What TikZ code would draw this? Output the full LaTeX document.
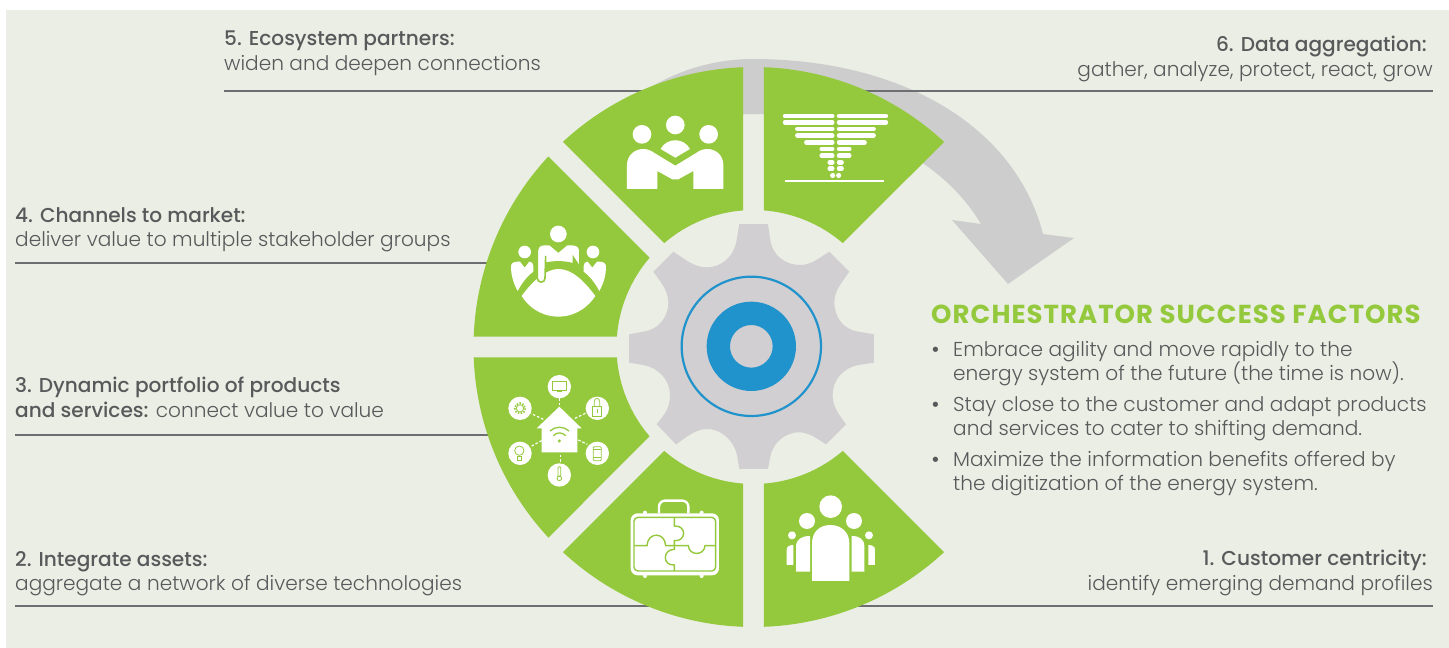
\documentclass[tikz,border=0pt]{standalone}
\usepackage{fontspec}
\setmainfont{Poppins Light}[BoldFont=Poppins Medium]
\newfontface\titlefont{Poppins Bold}[LetterSpace=4]
\definecolor{panelbg}{HTML}{EBEEE4}
\definecolor{leaf}{HTML}{95C93D}
\definecolor{arcgrey}{HTML}{CDCDCD}
\definecolor{geargrey}{HTML}{D1CFD1}
\definecolor{hub}{HTML}{2193CC}
\definecolor{rulegrey}{HTML}{6D6E71}
\definecolor{bodytext}{HTML}{58595B}
\newcommand{\wheelsector}[2]{\fill[leaf] (#1+2.1:280) arc[start angle=#1+2.1, end angle=#2-2.1, radius=280] -- (#2-4.3:137) arc[start angle=#2-4.3, end angle=#1+4.3, radius=137] -- cycle;}

\begin{document}
\begin{tikzpicture}[x=1pt, y=-1pt]
\tikzstyle{rule} = [draw = rulegrey, line width = 2.4pt]
\tikzstyle{lefttext} = [anchor = north west, inner sep = 0, align = left, text = bodytext, font = \fontsize{20.1}{24.4}\selectfont]
\tikzstyle{righttext} = [anchor = north east, inner sep = 0, align = right, text = bodytext, font = \fontsize{20.1}{24.4}\selectfont]
\tikzstyle{iconfill} = [fill = white]
\tikzstyle{iconline} = [draw = leaf, line width = 0.8pt]
\useasboundingbox (0, 0) rectangle (1449, 648);
\fill[panelbg] (6, 10) rectangle (1449, 648);
% -----------------------------------
% Big arrow
\fill[arcgrey] (640, 94) .. controls (675, 70) and (715, 59) .. (753, 59) .. controls (900, 59) and (1015, 125) .. (1043, 234) -- (1074, 238) -- (1008, 284) -- (952, 220) -- (981, 224) .. controls (940, 155) and (850, 114) .. (753, 114) .. controls (720, 114) and (680, 125) .. (660, 140) -- cycle;
% -----------------------------------
% Rules
\coordinate (rule5a) at (224, 91);
\coordinate (rule5b) at (660, 91);
\coordinate (rule6a) at (850, 91);
\coordinate (rule6b) at (1433, 91);
\coordinate (rule4a) at (15, 263);
\coordinate (rule4b) at (500, 263);
\coordinate (rule3a) at (15, 435);
\coordinate (rule3b) at (500, 435);
\coordinate (rule2a) at (15, 606);
\coordinate (rule2b) at (660, 606);
\coordinate (rule1a) at (850, 606);
\coordinate (rule1b) at (1433, 606);
\draw[rule] (rule5a)--(rule5b);
\draw[rule] (rule6a)--(rule6b);
\draw[rule] (rule4a)--(rule4b);
\draw[rule] (rule3a)--(rule3b);
\draw[rule] (rule2a)--(rule2b);
\draw[rule] (rule1a)--(rule1b);
% -----------------------------------
% Labels
\node[lefttext] (label5) at (224, 31) {\textbf{5. Ecosystem partners:}\\widen and deepen connections};
\node[righttext] (label6) at (1433, 36) {\textbf{6. Data aggregation:}\hspace{6pt}\mbox{}\\gather, analyze, protect, react, grow};
\node[lefttext] (label4) at (15, 207) {\textbf{4. Channels to market:}\\deliver value to multiple stakeholder groups};
\node[lefttext] (label3) at (15, 377) {\textbf{3. Dynamic portfolio of products}\\\textbf{and services:} connect value to value};
\node[lefttext] (label2) at (15, 551) {\textbf{2. Integrate assets:}\\aggregate a network of diverse technologies};
\node[righttext] (label1) at (1433, 550) {\textbf{1. Customer centricity:}\hspace{6pt}\mbox{}\\identify emerging demand profiles};
\node[anchor = base west, inner sep = 0, text = leaf, font = \fontsize{26}{30}\titlefont] (title) at (931, 323) {ORCHESTRATOR SUCCESS FACTORS};
\node[lefttext] (item1) at (953, 341) {\llap{\textbf{•}\hspace{13pt}}Embrace agility and move rapidly to the\\energy system of the future (the time is now).};
\node[lefttext] (item2) at (953, 396) {\llap{\textbf{•}\hspace{13pt}}Stay close to the customer and adapt products\\and services to cater to shifting demand.};
\node[lefttext] (item3) at (953, 451) {\llap{\textbf{•}\hspace{13pt}}Maximize the information benefits offered by\\the digitization of the energy system.};
% -----------------------------------
% Wheel
\begin{scope}[shift = {(753.5, 347)}, x = 1pt, y = 1pt]
\wheelsector{45}{90}
\wheelsector{90}{135}
\wheelsector{135}{180}
\wheelsector{180}{225}
\wheelsector{225}{270}
\wheelsector{270}{315}
\end{scope}
% -----------------------------------
% Gear
\begin{scope}[shift = {(620, 215)}, x = .3333pt, y = -.3333pt]
\fill[geargrey] (358, 27) -- (444, 27) -- (451, 75) .. controls (458, 125) and (500, 150) .. (540, 150) .. controls (575, 150) and (595, 130) .. (628, 110)
 -- (688, 170) -- (660, 210) .. controls (650, 225) and (643, 245) .. (643, 262) .. controls (643, 310) and (675, 345) .. (715, 350) -- (762, 358)
 -- (762, 443) -- (715, 450) .. controls (670, 458) and (638, 495) .. (638, 540) .. controls (638, 560) and (645, 580) .. (655, 595) -- (678, 628)
 -- (618, 688) -- (590, 670) .. controls (575, 660) and (555, 652) .. (538, 652) .. controls (490, 652) and (455, 690) .. (450, 730) -- (444, 762)
 -- (358, 762) -- (352, 725) .. controls (345, 680) and (305, 642) .. (262, 642) .. controls (240, 642) and (225, 650) .. (205, 662) -- (168, 688)
 -- (110, 628) -- (135, 595) .. controls (145, 580) and (150, 560) .. (150, 540) .. controls (150, 495) and (115, 458) .. (70, 450) -- (27, 443)
 -- (27, 358) -- (70, 350) .. controls (112, 345) and (145, 310) .. (145, 262) .. controls (145, 240) and (135, 220) .. (125, 205) -- (100, 170)
 -- (160, 110) -- (205, 140) .. controls (222, 150) and (240, 157) .. (260, 157) .. controls (305, 157) and (342, 125) .. (350, 75) -- cycle;
\fill[hub, even odd rule] (394, 394) circle[radius = 134] (394, 394) circle[radius = 64];
\draw[hub, line width = 2.2pt] (394, 394) circle[radius = 209];
\end{scope}
% -----------------------------------
% Handshake icon
\begin{scope}[shift = {(470, 50)}, x = .3333pt, y = -.3333pt]
\fill[iconfill] (516, 253) circle[radius = 28];
\fill[iconfill] (616, 225) circle[radius = 28];
\fill[iconfill] (716, 253) circle[radius = 28];
\fill[iconfill] (572, 297) .. controls (590, 262) and (642, 262) .. (660, 297) -- (616, 323) -- cycle;
\fill[iconfill] (471, 417) -- (471, 345) .. controls (471, 315) and (495, 297) .. (520, 297) .. controls (535, 297) and (545, 303) .. (555, 310) -- (616, 347) -- (677, 310) .. controls (687, 303) and (697, 297) .. (712, 297) .. controls (737, 297) and (760, 315) .. (760, 345) -- (760, 417) -- (670, 417) -- (670, 363) -- (625, 388) -- (607, 388) -- (562, 363) -- (562, 417) -- cycle;
\end{scope}
% -----------------------------------
% Meeting icon
\begin{scope}[shift = {(505, 220)}, x = .3333pt, y = -.3333pt]
\fill[iconfill] (160, 42) circle[radius = 25];
\fill[iconfill] (59, 96) circle[radius = 19];
\fill[iconfill] (264, 96) circle[radius = 19];
\fill[iconfill] (50, 228) .. controls (85, 180) and (125, 147) .. (160, 147) .. controls (200, 147) and (235, 180) .. (271, 228) .. controls (240, 275) and (195, 290) .. (160, 290) .. controls (125, 290) and (80, 275) .. (50, 228) -- cycle;
\fill[iconfill, draw = leaf, line width = 1.6pt] (97, 95) .. controls (97, 80) and (105, 74) .. (115, 74) -- (135, 74) -- (160, 95) -- (185, 74) -- (205, 74) .. controls (218, 74) and (225, 82) .. (225, 95) -- (225, 142) -- (205, 112) -- (205, 132) .. controls (180, 124) and (145, 124) .. (122, 130) -- (122, 108) -- (120, 175) .. controls (120, 190) and (97, 190) .. (97, 175) -- cycle;
\fill[iconfill] (18, 140) .. controls (18, 130) and (25, 125) .. (38, 125) -- (45, 125) -- (59, 143) -- (73, 125) .. controls (80, 125) and (85, 130) .. (85, 138) -- (85, 155) .. controls (65, 170) and (50, 190) .. (38, 213) .. controls (25, 190) and (18, 165) .. (18, 140) -- cycle;
\fill[iconfill] (303, 140) .. controls (303, 130) and (296, 125) .. (283, 125) -- (276, 125) -- (262, 143) -- (248, 125) .. controls (241, 125) and (236, 130) .. (236, 138) -- (236, 155) .. controls (256, 170) and (271, 190) .. (283, 213) .. controls (296, 190) and (303, 165) .. (303, 140) -- cycle;
\end{scope}
% -----------------------------------
% Funnel icon
\begin{scope}[shift = {(740, 50)}, x = .3333pt, y = -.3333pt]
\foreach \y/\l/\r in {198/128/445, 217/128/445, 237/165/408, 257/165/408, 277/192/381, 297/238/335, 317/238/335, 337/262/312, 356/262/312, 376/272/302} {
  \draw[white, line width = 4.4pt, line cap = round] ({\l+7}, \y) -- (277, \y);
  \draw[white, line width = 4.4pt, line cap = round] (297, \y) -- ({\r-7}, \y);
}
\draw[white, line width = 1.3pt] (135, 393) -- (432, 393);
\end{scope}
% -----------------------------------
% Smart home icon
\begin{scope}[shift = {(500, 370)}, x = .3333pt, y = -.3333pt]
\foreach \a/\b/\c/\d in {178/85/178/110, 225/145/260/128, 235/210/262/223, 182/255/182/278, 125/212/95/228, 130/148/92/130} {
  \draw[white, line width = 1.2pt, dash pattern = on 2.5pt off 2pt] (\a, \b) -- (\c, \d);
}
\foreach \a/\b in {178/50, 292/115, 292/250, 178/315, 60/250, 60/115} {
  \fill[iconfill] (\a, \b) circle[radius = 35];
}
\fill[iconfill] (178, 110) -- (245, 175) -- (232, 175) -- (232, 247) -- (125, 247) -- (125, 175) -- (110, 175) -- cycle;
\fill[leaf] (178, 213) circle[radius = 5];
\draw[leaf, line width = 1.3pt] (150, 183) .. controls (165, 168) and (192, 168) .. (207, 183);
\draw[leaf, line width = 1.3pt] (160, 197) .. controls (170, 186) and (187, 186) .. (197, 197);
\draw[iconline] (158, 33) rectangle (198, 60);
\draw[iconline] (170, 65) -- (186, 65);
\draw[iconline] (277, 110) rectangle (305, 140);
\draw[iconline] (283, 110) -- (283, 95) .. controls (283, 82) and (299, 82) .. (299, 95) -- (299, 110);
\draw[iconline] (291, 118) -- (291, 130);
\draw[iconline, rounded corners = 1pt] (280, 230) rectangle (304, 272);
\draw[iconline] (280, 238) -- (304, 238);
\draw[iconline] (280, 263) -- (304, 263);
\draw[iconline, rounded corners = 1pt] (174, 290) rectangle (182, 320);
\draw[iconline] (178, 325) circle[radius = 7];
\draw[iconline] (58, 242) circle[radius = 14];
\draw[iconline] (52, 258) rectangle (65, 272);
\draw[iconline] (60, 115) circle[radius = 11];
\draw[iconline, line width = 1.6pt, dash pattern = on 1.5pt off 1.5pt] (60, 115) circle[radius = 16];
\end{scope}
% -----------------------------------
% Briefcase icon
\begin{scope}[shift = {(625, 490)}, x = .3333pt, y = -.3333pt]
\draw[white, line width = 2.4pt, rounded corners = 6pt] (102, 70) -- (102, 32) -- (190, 32) -- (190, 70);
\foreach \a in {60, 230} {
  \fill[iconfill] (\a, 68) circle[radius = 6];
  \fill[iconfill] (\a, 258) circle[radius = 6];
}
\fill[iconfill, rounded corners = 7pt] (17, 70) rectangle (282, 256);
\draw[iconline, line width = 1.4pt, rounded corners = 4pt] (27, 82) rectangle (272, 243);
\draw[iconline, line width = 1.4pt] (28, 167) -- (66, 167) .. controls (68, 125) and (120, 125) .. (122, 167) -- (148, 167) -- (190, 167) .. controls (192, 198) and (238, 198) .. (240, 167) -- (272, 167);
\draw[iconline, line width = 1.4pt] (148, 82) -- (148, 108) .. controls (185, 105) and (185, 155) .. (148, 152) -- (148, 178) .. controls (112, 178) and (112, 228) .. (148, 225) -- (148, 243);
\end{scope}
% -----------------------------------
% People icon
\begin{scope}[shift = {(770, 480)}, x = .3333pt, y = -.3333pt]
\fill[iconfill] (182, 80) circle[radius = 34];
\fill[iconfill] (111, 123) circle[radius = 24];
\fill[iconfill] (252, 123) circle[radius = 24];
\fill[iconfill] (66, 166) circle[radius = 12];
\fill[iconfill] (297, 166) circle[radius = 12];
\fill[iconfill] (126, 303) -- (126, 190) .. controls (126, 155) and (150, 135) .. (181, 135) .. controls (212, 135) and (238, 155) .. (238, 190) -- (238, 303) -- cycle;
\fill[iconfill] (78, 275) -- (78, 200) .. controls (78, 178) and (95, 168) .. (120, 168) -- (120, 275) -- cycle;
\fill[iconfill] (245, 275) -- (245, 168) .. controls (270, 168) and (283, 178) .. (283, 200) -- (283, 275) -- cycle;
\fill[iconfill] (50, 255) -- (50, 210) .. controls (50, 200) and (57, 195) .. (70, 195) -- (70, 255) -- cycle;
\fill[iconfill] (295, 255) -- (295, 195) .. controls (308, 195) and (315, 200) .. (315, 210) -- (315, 255) -- cycle;
\end{scope}
% -----------------------------------
\end{tikzpicture}
\end{document}
